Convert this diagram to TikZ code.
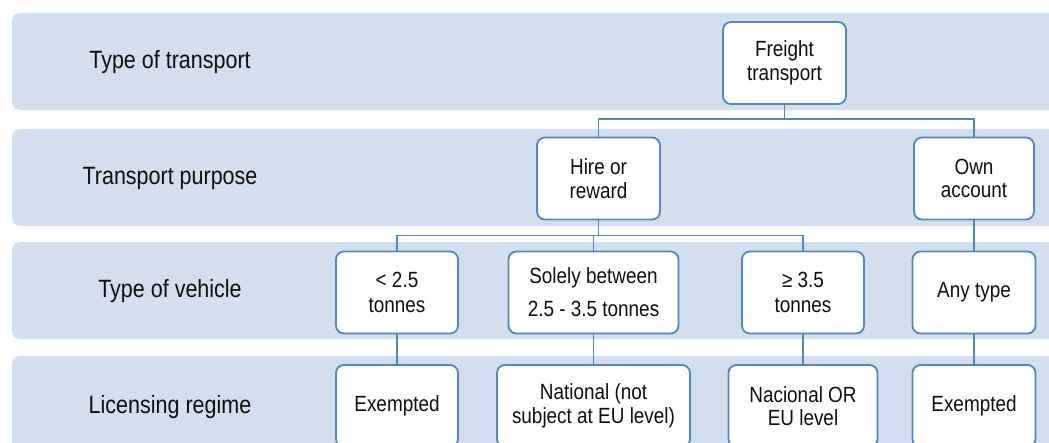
\documentclass[tikz,border=0pt]{standalone}
\usepackage{fontspec}
\setmainfont[FakeStretch=0.86]{Liberation Sans}
\definecolor{bandblue}{RGB}{211,222,239}
\definecolor{lineblue}{RGB}{86,134,186}
\definecolor{inkgray}{RGB}{15,15,15}
\begin{document}
\begin{tikzpicture}[x=1pt,y=-1pt,
  band/.style={fill=bandblue, rounded corners=8pt},
  cell/.style={draw=lineblue, line width=1.8pt, fill=white, rounded corners=8pt,
    minimum height=82pt, align=center, inner sep=0pt, text=inkgray,
    font=\fontsize{22}{23.4}\selectfont},
  level/.style={font=\fontsize{25}{28}\selectfont, text=inkgray},
  link/.style={draw=lineblue, line width=1.8pt}]
\useasboundingbox (0,0) rectangle (1049,442);

% horizontal level bands
\fill[band] (12,13) rectangle (1075,110);
\fill[band] (12,129) rectangle (1075,226);
\fill[band] (12,242) rectangle (1075,339);
\fill[band] (12,356) rectangle (1075,490);

% level captions
\node[level] (l1) at (170,62) {Type of transport};
\node[level] (l2) at (170,178) {Transport purpose};
\node[level] (l3) at (170,291.5) {Type of vehicle};
\node[level] (l4) at (170,407) {Licensing regime};

% decision tree
\node[cell, minimum width=123pt] (freight) at (784.5,63) {Freight\\transport};

\node[cell, minimum width=123pt] (hire) at (598.5,178.5) {Hire or\\reward};
\node[cell, minimum width=120pt] (own) at (974,178.5) {Own\\account};

\node[cell, minimum width=122pt, font=\fontsize{22}{25}\selectfont] (light) at (397,292.5) {< 2.5\\tonnes};
\node[cell, minimum width=170pt, font=\fontsize{22}{33}\selectfont] (mid) at (593.5,292.5) {Solely between\\2.5 - 3.5 tonnes};
\node[cell, minimum width=122pt, font=\fontsize{22}{25}\selectfont] (heavy) at (803,292.5) {≥ 3.5\\tonnes};
\node[cell, minimum width=123pt] (any) at (974,292.5) {Any type};

\node[cell, minimum width=122pt] (ex1) at (397,406) {Exempted};
\node[cell, minimum width=193pt] (nat) at (593.5,406) {National (not\\subject at EU level)};
\node[cell, minimum width=149pt] (nateu) at (803,406) {Nacional OR\\EU level};
\node[cell, minimum width=123pt] (ex2) at (974,406) {Exempted};

% connector buses
\coordinate (bus1) at (0,119);
\coordinate (bus2) at (0,235.5);

\draw[link] (freight.south) -- (freight.south |- bus1) -| (hire.north);
\draw[link] (freight.south |- bus1) -| (own.north);

\draw[link] (hire.south) -- (hire.south |- bus2) -| (light.north);
\draw[link] (hire.south |- bus2) -| (mid.north);
\draw[link] (hire.south |- bus2) -| (heavy.north);

\draw[link] (own) -- (any);

\draw[link] (light) -- (ex1);
\draw[link] (mid) -- (nat);
\draw[link] (heavy) -- (nateu);
\draw[link] (any) -- (ex2);
\end{tikzpicture}
\end{document}
